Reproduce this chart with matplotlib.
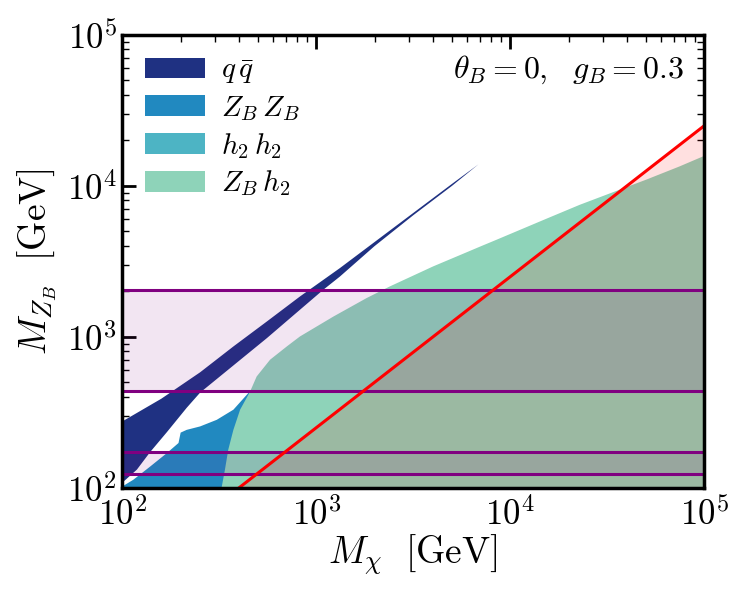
import numpy as np
import matplotlib
matplotlib.use("Agg")
import matplotlib.pyplot as plt
from matplotlib.patches import Patch
from matplotlib.ticker import FixedLocator, FuncFormatter, LogLocator

plt.rcParams['mathtext.fontset'] = 'cm'
plt.rcParams['font.family'] = ['DejaVu Serif']

# ---- data (GeV) ----
qq_upper_x = [100, 159, 252, 374, 556, 824, 1324, 1995, 3162, 5012, 6855]
qq_upper_y = [275, 389, 582, 863, 1262, 1849, 2851, 4236, 6607, 10304, 13868]
qq_lower_x = [5012, 3162, 1995, 1324, 1086, 824, 556, 374, 252, 215, 170, 139, 119, 100]
qq_lower_y = [10000, 6383, 3981, 2506, 2046, 1510, 979, 646, 427, 339, 234, 172, 132, 108]

zbzb_x = [100, 100, 114, 139, 170, 195, 200, 215, 252, 307, 374, 456, 398, 363]
zbzb_y = [98, 102, 113, 138, 170, 198, 232, 242, 255, 282, 329, 437, 200, 98]

zbh2_x = [325, 338, 352, 374, 405, 456, 493, 578, 705, 824, 1225, 1815, 2390,
          4000, 5940, 6950, 8470, 10300, 15300, 22800, 36600, 50100, 74500, 100000]
zbh2_y = [100, 131, 179, 242, 329, 434, 546, 705, 863, 1005, 1361, 1803, 2153,
          2924, 3622, 3945, 4385, 4875, 6040, 7482, 9419, 10970, 13430, 15780]

mass_ratio = 4.0                      # red line: M_ZB = M_chi / 4
purple_lines = [2030, 435, 173, 124]
purple_bands = [(435, 2030), (124, 173)]

labels = [r'$q\,\bar{q}$', r'$Z_B\,Z_B$', r'$h_2\,h_2$', r'$Z_B\,h_2$']
colors = ['#1f3182', '#2189c0', '#4db4c4', '#8ed3b9']

# ---- figure ----
fig = plt.figure(figsize=(7.5, 6), dpi=100)
ax = fig.add_axes([0.163, 0.187, 0.776, 0.755])
ax.set_xscale('log')
ax.set_yscale('log')
ax.set_xlim(1e2, 1e5)
ax.set_ylim(1e2, 1e5)

ax.fill(qq_upper_x + qq_lower_x, qq_upper_y + qq_lower_y, color=colors[0], lw=0, zorder=2)
ax.fill(zbzb_x, zbzb_y, color=colors[1], lw=0, zorder=3)
gx = zbh2_x + [1e5, zbh2_x[0]]
gy = zbh2_y + [90, 90]
ax.fill(gx, gy, color=colors[3], lw=0, zorder=4)

xr = np.logspace(2, 5, 200)
ax.fill_between(xr, 90, xr / mass_ratio, color='red', alpha=0.12, lw=0, zorder=5)

for lo, hi in purple_bands:
    ax.axhspan(lo, hi, color='purple', alpha=0.1, lw=0, zorder=5)
for yv in purple_lines:
    ax.axhline(yv, color='purple', lw=2.2, zorder=6)
ax.plot(xr, xr / mass_ratio, color='red', lw=2.2, zorder=7)

# ticks
fmt = FuncFormatter(lambda v, p: r'$10^{%d}$' % round(np.log10(v)))
for axis in (ax.xaxis, ax.yaxis):
    axis.set_major_locator(FixedLocator([1e2, 1e3, 1e4, 1e5]))
    axis.set_major_formatter(fmt)
    axis.set_minor_locator(LogLocator(base=10, subs=np.arange(2, 10)))
    axis.set_minor_formatter(plt.NullFormatter())
ax.tick_params(which='both', direction='in', top=True, right=True)
ax.tick_params(which='major', length=10, width=2, labelsize=25, pad=4)
ax.tick_params(axis='x', which='major', pad=7)
ax.tick_params(which='minor', length=5, width=1)
for s in ax.spines.values():
    s.set_linewidth(2.5)
    s.set_zorder(10)

ax.set_xlabel(r'$M_{\chi}\ \ [\mathrm{GeV}]$', fontsize=27, labelpad=0)
ax.set_ylabel(r'$M_{Z_B}\ \ [\mathrm{GeV}]$', fontsize=27, labelpad=6)

ax.text(0.766, 0.923, r'$\theta_B = 0,\ \ g_B = 0.3$', transform=ax.transAxes,
        ha='center', va='center', fontsize=23, zorder=11)

handles = [Patch(facecolor=c, edgecolor='none') for c in colors]
leg = ax.legend(handles, labels, loc='upper left', bbox_to_anchor=(0.019, 0.979),
                borderaxespad=0, frameon=False, fontsize=21, handlelength=2.05,
                handleheight=0.7, labelspacing=0.27, handletextpad=0.55)
leg.set_zorder(11)

fig.savefig('out.png', dpi=100)
